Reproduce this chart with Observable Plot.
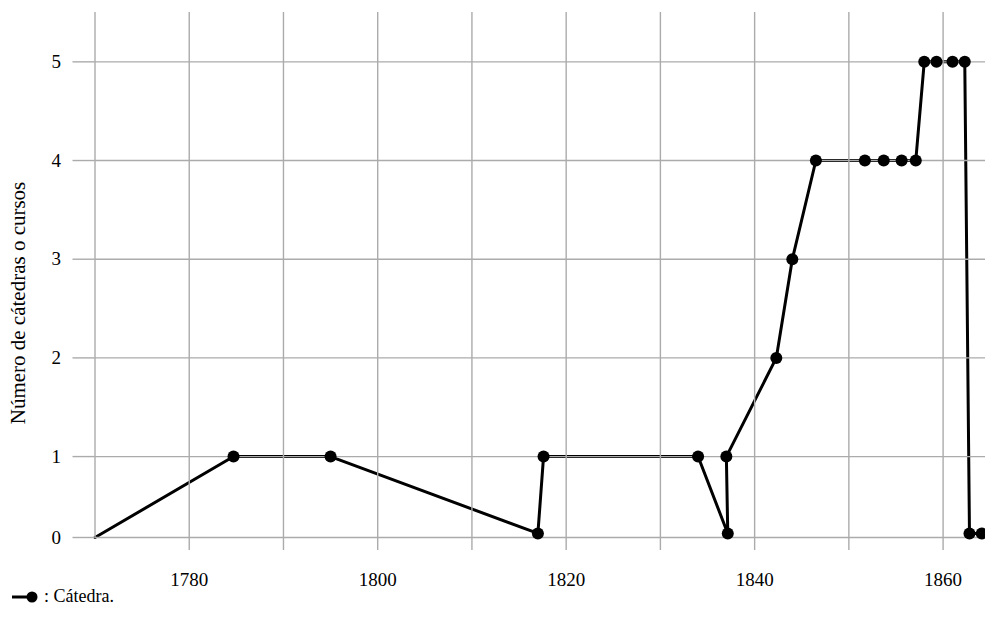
<!DOCTYPE html>
<html>
<head>
<meta charset="utf-8">
<script src="https://cdn.jsdelivr.net/npm/d3@7"></script>
<script src="https://cdn.jsdelivr.net/npm/@observablehq/plot@0.6"></script>
<style>
  body { margin: 0; background: #fff; font-family: "Liberation Serif", "DejaVu Serif", serif; }
  #wrap { position: relative; width: 985px; height: 630px; }
  #legend { position: absolute; left: 10px; top: 586px; font-size: 18px; color: #000; display: flex; align-items: center; }
  #legend svg { margin-right: 6px; }
</style>
</head>
<body>
<div id="wrap">
  <div id="chart"></div>
  <div id="legend"><svg width="28" height="14"><line x1="2" y1="7" x2="20" y2="7" stroke="#000" stroke-width="3"/><circle cx="22" cy="7" r="5.5" fill="#000"/></svg><span id="legendText"></span></div>
</div>
<script>
// Data
const years  = [1770, 1784.7, 1795.0, 1817.0, 1817.6, 1834.0, 1837.15, 1837.0, 1842.3, 1844.0, 1846.5, 1851.7, 1853.7, 1855.6, 1857.1, 1858.0, 1859.3, 1861.0, 1862.3, 1862.8, 1864.1];
const counts = [0,    1,      1,      0.05,   1,      1,      0.05,    1,      2,      3,      4,      4,      4,      4,      4,      5,      5,      5,      5,      0.05,   0.05];
const hasDot = [false, true,  true,   true,   true,   true,   true,    true,   true,   true,   true,   true,   true,   true,   true,   true,   true,   true,   true,   true,   true];

const xGridYears  = [1770, 1780, 1790, 1800, 1810, 1820, 1830, 1840, 1850, 1860];
const xTickYears  = [1780, 1790, 1800, 1810, 1820, 1830, 1840, 1850, 1860];
const xTickLabels = ["1780", "1800", "1820", "1840", "1860"];
const yTicks      = [0, 1, 2, 3, 4, 5];
const yTickLabels = ["0", "1", "2", "3", "4", "5"];
const yLabel      = "Número de cátedras o cursos";
const seriesName  = "Cátedra.";

const data = years.map((y, i) => ({year: y, count: counts[i], dot: hasDot[i]}));

// The reference's axis has the 0–1 interval drawn shorter than the others.
const yShape = v => (v < 1 ? 0.18 + 0.82 * v : v);

const gridColor = "#ababab";
const chart = Plot.plot({
  width: 985,
  height: 600,
  marginLeft: 94.5,
  marginRight: 0,
  marginTop: 12,
  marginBottom: 63,
  style: {fontFamily: "'Liberation Serif', serif", color: "#000", background: "#fff", overflow: "visible"},
  x: {domain: [1770, 1864.5], axis: null},
  y: {domain: [0.18, 5.5], transform: yShape, axis: null},
  marks: [
    Plot.line(data, {x: "year", y: "count", stroke: "#000", strokeWidth: 3, strokeLinejoin: "round"}),
    Plot.ruleX(xGridYears, {x: d => d, y1: 0, y2: 5.5, stroke: gridColor, strokeWidth: 1.4}),
    Plot.ruleY(yTicks, {y: d => d, x1: 1770, x2: 1864.5, stroke: gridColor, strokeWidth: 1.4}),
    Plot.axisX(xTickYears, {
      tickSize: 13, tickPadding: 22, stroke: gridColor, strokeWidth: 1.4, fontSize: 19, label: null,
      tickFormat: d => (xTickLabels.includes(String(d)) ? String(d) : "")
    }),
    Plot.axisY(yTicks, {
      tickSize: 22, tickPadding: 12, stroke: gridColor, strokeWidth: 1.4, fontSize: 19, label: null,
      tickFormat: d => yTickLabels[yTicks.indexOf(d)]
    }),
    Plot.text([yLabel], {text: d => d, frameAnchor: "left", textAnchor: "middle", lineAnchor: "middle", rotate: -90, dx: -77, dy: 28, fontSize: 21, fill: "#000"}),
    Plot.dot(data.filter(d => d.dot), {x: "year", y: "count", r: 6, fill: "#000", stroke: "none"})
  ]
});
document.getElementById("chart").appendChild(chart);
document.getElementById("legendText").textContent = ": " + seriesName;
</script>
</body>
</html>
